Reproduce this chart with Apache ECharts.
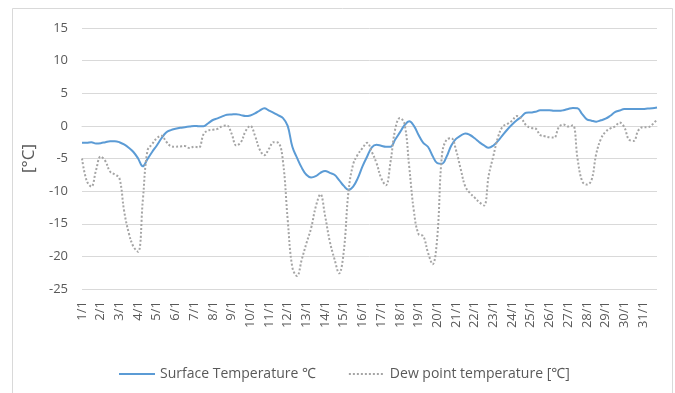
<!DOCTYPE html>
<html>
<head>
<meta charset="utf-8">
<script src="https://cdn.jsdelivr.net/npm/echarts@6/dist/echarts.min.js"></script>
<style>
  html, body { margin: 0; padding: 0; background: #fff; }
  #chart { width: 675px; height: 393px; }
</style>
</head>
<body>
<div id="chart"></div>
<script>
// day labels on the x axis (one tick every 4 samples)
const days = ['1/1','2/1','3/1','4/1','5/1','6/1','7/1','8/1','9/1','10/1','11/1','12/1','13/1','14/1','15/1','16/1',
  '17/1','18/1','19/1','20/1','21/1','22/1','23/1','24/1','25/1','26/1','27/1','28/1','29/1','30/1','31/1']
const hours = ['', ' 06:00', ' 12:00', ' 18:00']

// 4 readings per day (00, 06, 12, 18h)
const surfaceTemp = [
  -2.6, -2.6, -2.5, -2.7,   -2.65, -2.5, -2.35, -2.35,   -2.5, -2.85, -3.35, -4.0,   -5.0, -6.2, -5.1, -4.0,
  -3.0, -1.9, -1.0, -0.65,  -0.45, -0.3, -0.2, -0.1,     0.0, -0.05, -0.05, 0.4,     0.9, 1.15, 1.45, 1.7,
  1.75, 1.8, 1.65, 1.5,     1.6, 1.9, 2.35, 2.7,         2.35, 2.0, 1.6, 1.2,        0.0, -3.2, -4.9, -6.4,
  -7.5, -7.9, -7.7, -7.2,   -6.9, -7.2, -7.5, -8.3,      -9.2, -9.8, -9.3, -8.0,     -6.2, -4.7, -3.3, -2.9,
  -3.05, -3.2, -3.2, -2.1,  -1.0, 0.1, 0.7, 0.0,         -1.4, -2.6, -3.2, -4.6,     -5.7, -5.8, -4.7, -3.0,
  -2.0, -1.5, -1.15, -1.4,  -1.9, -2.5, -3.0, -3.35,     -3.0, -2.3, -1.4, -0.55,    0.2, 0.85, 1.4, 2.0,
  2.05, 2.15, 2.4, 2.4,     2.4, 2.3, 2.3, 2.4,          2.6, 2.75, 2.7, 1.8,        1.0, 0.8, 0.65, 0.85,
  1.1, 1.55, 2.1, 2.35,     2.6, 2.6, 2.6, 2.6,          2.6, 2.65, 2.7, 2.8
]
const dewPoint = [
  -5.0, -8.4, -9.3, -6.8,   -4.7, -5.4, -7.0, -7.45,     -8.0, -13.0, -16.4, -18.5,  -19.3, -11.5, -3.8, -2.8,
  -1.9, -1.5, -2.4, -3.1,   -3.2, -3.15, -3.1, -3.4,     -3.2, -3.3, -1.3, -0.7,     -0.6, -0.45, -0.05, 0.05,
  -1.2, -3.0, -2.5, -0.8,   0.0, -1.5, -3.6, -4.5,       -3.5, -2.5, -2.6, -5.5,     -14.4, -21.7, -23.0, -20.5,
  -18.0, -15.7, -12.4, -10.5, -13.8, -17.7, -20.4, -22.6, -19.2, -10.1, -5.9, -4.4,   -3.4, -2.6, -4.0, -5.7,
  -8.0, -9.1, -5.5, -0.5,   1.2, 0.3, -6.3, -13.1,       -16.6, -16.9, -19.4, -21.2, -17.0, -4.5, -2.1, -1.9,
  -3.7, -6.6, -9.3, -10.3,  -11.0, -11.7, -12.2, -7.6,   -4.6, -1.7, -0.1, 0.3,      0.8, 1.5, 1.1, 0.1,
  -0.3, -0.4, -1.4, -1.6,   -1.75, -1.8, -0.2, 0.2,      -0.1, 0.1, -5.0, -8.5,      -9.0, -8.3, -4.3, -2.0,
  -0.9, -0.4, -0.1, 0.5,    -0.2, -2.1, -2.3, -0.7,      -0.2, -0.2, 0.2, 1.0
]

const categories = []
days.forEach(d => hours.forEach(h => categories.push(d + h)))

const textColor = '#595959'
const gridColor = '#d9d9d9'
const font = 'Open Sans, Noto Sans, sans-serif'

const chart = echarts.init(document.getElementById('chart'))

const option = {
  animation: false,
  backgroundColor: '#fff',
  graphic: [
    {
      type: 'rect',
      shape: { x: 12.5, y: 8.5, width: 660, height: 400 },
      style: { fill: 'none', stroke: gridColor, lineWidth: 1 },
      silent: true
    }
  ],
  legend: {
    bottom: 7,
    left: 113,
    itemWidth: 36,
    itemHeight: 10,
    itemGap: 32,
    itemStyle: { opacity: 0 },
    textStyle: { color: textColor, fontSize: 14, fontFamily: font },
    data: ['Surface Temperature ℃', 'Dew point temperature [℃]']
  },
  grid: {
    left: 82,
    right: 18,
    top: 28,
    bottom: 104
  },
  xAxis: {
    type: 'category',
    data: categories,
    boundaryGap: false,
    axisLine: { show: true, lineStyle: { color: gridColor } },
    axisTick: { show: false },
    axisLabel: {
      interval: 3,
      rotate: 90,
      margin: 12,
      color: textColor,
      fontSize: 13,
      fontFamily: font
    },
    splitLine: { show: false }
  },
  yAxis: {
    type: 'value',
    min: -25,
    max: 15,
    interval: 5,
    name: '[°C]',
    nameLocation: 'middle',
    nameGap: 44,
    nameTextStyle: { color: textColor, fontSize: 17, fontFamily: font },
    axisLine: { show: false },
    axisTick: { show: false },
    axisLabel: { color: textColor, fontSize: 13, fontFamily: font, margin: 14 },
    splitLine: { lineStyle: { color: gridColor, width: 1 } }
  },
  series: [
    {
      name: 'Surface Temperature ℃',
      type: 'line',
      data: surfaceTemp,
      smooth: 0.4,
      symbol: 'none',
      lineStyle: { color: '#5b9bd5', width: 2 },
      itemStyle: { color: '#5b9bd5' }
    },
    {
      name: 'Dew point temperature [℃]',
      type: 'line',
      data: dewPoint,
      smooth: 0.4,
      symbol: 'none',
      lineStyle: { color: '#a5a5a5', width: 2, type: [2, 2] },
      itemStyle: { color: '#a5a5a5' }
    }
  ]
}

chart.setOption(option)

window.addEventListener('resize', () => chart.resize())
</script>
</body>
</html>
